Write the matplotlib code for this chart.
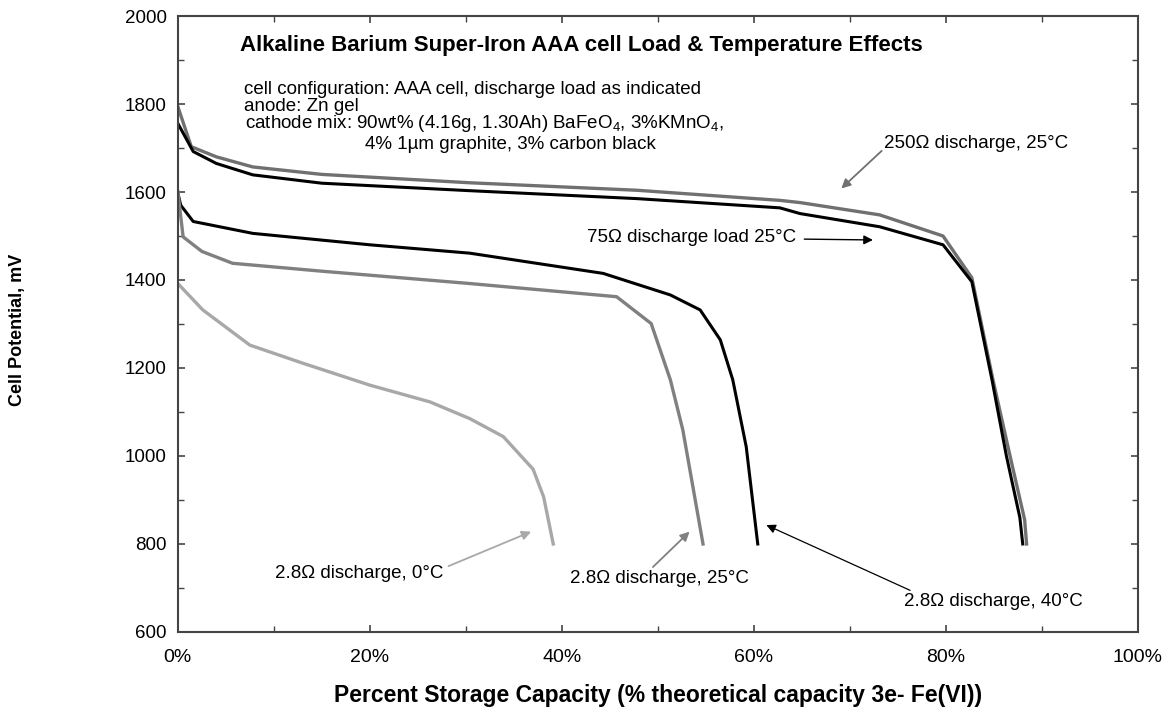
import matplotlib.pyplot as plt
from matplotlib.ticker import MultipleLocator, FuncFormatter

plt.rcParams['font.family'] = ['Liberation Sans', 'DejaVu Sans']
plt.rcParams['mathtext.fontset'] = 'custom'
plt.rcParams['mathtext.rm'] = 'Liberation Sans'

# 250 ohm, 25C
x_250 = [0, 1.4, 4.0, 7.8, 15, 30.4, 47.8, 62.7, 64.8, 73.1, 79.7, 82.7, 84.9, 86.7, 88.2, 88.4]
y_250 = [1794, 1703, 1680, 1657, 1640, 1621, 1604, 1581, 1576, 1548, 1500, 1405, 1173, 998, 855, 800]
# 75 ohm, 25C
x_75 = [0, 1.6, 4.0, 7.8, 15, 30.4, 47.8, 62.7, 64.8, 73.1, 79.7, 82.7, 84.8, 86.3, 87.7, 88.0]
y_75 = [1756, 1692, 1665, 1639, 1620, 1603, 1585, 1564, 1551, 1521, 1480, 1396, 1173, 1000, 860, 800]
# 2.8 ohm, 40C
x_40 = [0, 0.3, 1.6, 7.8, 20, 30.4, 44.3, 51.3, 54.4, 56.5, 57.8, 59.2, 60.4]
y_40 = [1598, 1570, 1533, 1506, 1480, 1461, 1415, 1366, 1332, 1264, 1173, 1021, 800]
# 2.8 ohm, 25C
x_25 = [0, 0.55, 2.5, 5.7, 15, 30.4, 45.7, 49.3, 51.3, 52.6, 54.7]
y_25 = [1601, 1498, 1465, 1438, 1420, 1392, 1362, 1301, 1173, 1059, 800]
# 2.8 ohm, 0C
x_0 = [0, 2.6, 7.5, 13, 20, 26.25, 30.4, 33.9, 37.0, 38.1, 39.1]
y_0 = [1392, 1332, 1252, 1211, 1161, 1123, 1085, 1044, 970, 907, 800]

fig = plt.figure(figsize=(11.7, 7.12), dpi=100)
ax = fig.add_axes([0.152, 0.1124, 0.8206, 0.8651])

ax.plot(x_250, y_250, color='#707070', lw=2.4)
ax.plot(x_75, y_75, color='black', lw=2.2)
ax.plot(x_40, y_40, color='black', lw=2.2)
ax.plot(x_25, y_25, color='#808080', lw=2.4)
ax.plot(x_0, y_0, color='#a8a8a8', lw=2.4)

ax.set_xlim(0, 100)
ax.set_ylim(600, 2000)
ax.xaxis.set_major_locator(MultipleLocator(20))
ax.xaxis.set_minor_locator(MultipleLocator(10))
ax.yaxis.set_major_locator(MultipleLocator(200))
ax.yaxis.set_minor_locator(MultipleLocator(100))
ax.xaxis.set_major_formatter(FuncFormatter(lambda v, p: '%d%%' % v))
ax.tick_params(which='both', direction='in', top=True, right=True, color='#444444')
ax.tick_params(which='major', length=5, width=1.2)
ax.tick_params(which='minor', length=4, width=1.0)
ax.tick_params(axis='x', pad=12, labelsize=14)
ax.tick_params(axis='y', pad=8, labelsize=13.5)
for s in ax.spines.values():
    s.set_color('#444444')
    s.set_linewidth(1.5)

ax.set_ylabel('Cell Potential, mV', fontsize=13, fontweight='bold')
ax.yaxis.set_label_coords(-0.158, 0.49)
ax.set_xlabel('Percent Storage Capacity (% theoretical capacity 3e- Fe(VI))',
              fontsize=16.5, fontweight='bold', labelpad=13)

ax.text(6.5, 1934, 'Alkaline Barium Super-Iron AAA cell Load & Temperature Effects',
        fontsize=16, fontweight='bold', va='center')
ax.text(6.9, 1834, 'cell configuration: AAA cell, discharge load as indicated', fontsize=13.5, va='center')
ax.text(6.9, 1795, 'anode: Zn gel', fontsize=13.5, va='center')
ax.text(7.0, 1755, 'cathode mix: 90wt% (4.16g, 1.30Ah) BaFeO$_4$, 3%KMnO$_4$,', fontsize=13.5, va='center')
ax.text(19.5, 1707, '4% 1\u00b5m graphite, 3% carbon black', fontsize=13.5, va='center')

ann = dict(fontsize=13.5, va='center', ha='left')
ax.annotate('250\u03a9 discharge, 25\u00b0C', xy=(69.1, 1608), xytext=(73.6, 1711),
            arrowprops=dict(arrowstyle='-|>', color='#707070', lw=1.3, shrinkA=0, shrinkB=0,
                            relpos=(0, 0.2)), **ann)
ax.annotate('75\u03a9 discharge load 25\u00b0C', xy=(72.4, 1491), xytext=(42.6, 1497),
            arrowprops=dict(arrowstyle='-|>', color='black', lw=1.0, shrinkA=4, shrinkB=0,
                            relpos=(1, 0.4)), **ann)
ax.annotate('2.8\u03a9 discharge, 0\u00b0C', xy=(36.8, 828), xytext=(10.1, 733),
            arrowprops=dict(arrowstyle='-|>', color='#a8a8a8', lw=1.3, shrinkA=2, shrinkB=0,
                            relpos=(1, 0.8)), **ann)
ax.annotate('2.8\u03a9 discharge, 25\u00b0C', xy=(53.3, 828), xytext=(40.8, 722),
            arrowprops=dict(arrowstyle='-|>', color='#808080', lw=1.3, shrinkA=0, shrinkB=0,
                            relpos=(0.45, 1)), **ann)
ax.annotate('2.8\u03a9 discharge, 40\u00b0C', xy=(61.3, 843), xytext=(75.6, 669),
            arrowprops=dict(arrowstyle='-|>', color='black', lw=0.9, shrinkA=0, shrinkB=0,
                            relpos=(0.07, 1)), **ann)

fig.savefig('out.png', dpi=100)
